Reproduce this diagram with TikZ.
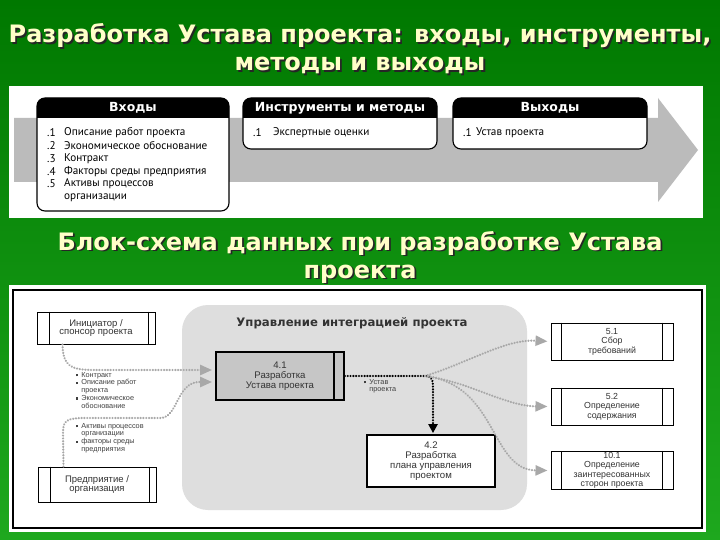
\documentclass[tikz,border=0pt]{standalone}
\usepackage{fontspec}
\setmainfont{DejaVu Sans}
\newfontfamily\ptfont{PT Sans}
\newfontfamily\arfont{Liberation Sans}
\usetikzlibrary{arrows.meta,positioning,calc}

\definecolor{bggreen}{RGB}{0,120,0}
\definecolor{bggreenlt}{RGB}{30,168,30}
\definecolor{ttlyellow}{RGB}{255,255,200}
\definecolor{bandgray}{RGB}{187,187,187}
\definecolor{zonegray}{RGB}{222,222,222}
\definecolor{boxgray}{RGB}{198,198,198}
\definecolor{flowgray}{RGB}{168,168,168}

\newcommand{\sqb}{\rule[0.8pt]{2.2pt}{2.2pt}\hspace{3pt}}

\begin{document}
\begin{tikzpicture}[x=1pt,y=-1pt]
  \tikzset{
    ttl/.style={text=ttlyellow,align=center,font=\bfseries\fontsize{24}{28}\selectfont},
    ttlsh/.style={ttl,text=black!85},
    hdr/.style={text=white,font=\bfseries\fontsize{12.5}{13}\selectfont},
    item/.style={anchor=west,inner sep=0pt,font=\ptfont\fontsize{11.2}{12}\selectfont},
    extbox/.style={draw,line width=1pt,fill=white,minimum width=118pt,minimum height=32pt,
      inner sep=1pt,align=center,font=\arfont\fontsize{9.5}{8.8}\selectfont,text=black!80},
    outbox/.style={extbox,minimum width=122pt,minimum height=37pt,
      font=\arfont\fontsize{8.8}{9.4}\selectfont},
    procbox/.style={draw,line width=1.8pt,minimum width=128pt,align=center,
      font=\arfont\fontsize{9.6}{10}\selectfont,text=black!80},
    note/.style={anchor=north west,inner sep=0pt,align=left,
      font=\arfont\fontsize{7.3}{7.7}\selectfont,text=black!75},
    flow/.style={draw=flowgray,line width=2.4pt,line cap=round,dash pattern=on 0.01pt off 2.8pt,
      -{Triangle[length=12pt,width=10pt,fill=flowgray,line cap=butt]},shorten >=3pt},
    blackflow/.style={flow,draw=black,-{Triangle[length=9pt,width=9pt,fill=black]},shorten >=1pt}
  }
  \useasboundingbox (0,0) rectangle (720,540);
  \shade[top color=bggreen,bottom color=bggreenlt] (0,0) rectangle (720,540);

  % titles
  \node[ttlsh] (t1s) at (361.8,50.8) {Разработка Устава проекта: входы, инструменты,\\методы и выходы};
  \node[ttl] (t1) at (360,49) {Разработка Устава проекта: входы, инструменты,\\методы и выходы};
  \node[ttlsh] (t2s) at (361.8,258.8) {Блок-схема данных при разработке Устава\\проекта};
  \node[ttl] (t2) at (360,257) {Блок-схема данных при разработке Устава\\проекта};

  % upper panel
  \fill[white] (9,86) rectangle (703,218);
  \fill[bandgray] (14,118) -- (658,118) -- (658,98) -- (698,150) -- (658,202)
    -- (658,182) -- (14,182) -- cycle;
  \foreach \xa/\xb/\yb in {37/229/211,243/437/149,453/647/149} {
    \draw[line width=1.1pt,fill=white,rounded corners=8pt] (\xa,98) rectangle (\xb,\yb);
    \fill (\xa,118) [rounded corners=8pt] -- (\xa,98) -- (\xb,98) [sharp corners] -- (\xb,118) -- cycle;
  }
  \node[hdr] (hin) at (133,108) {Входы};
  \node[hdr] (htool) at (340,108) {Инструменты и методы};
  \node[hdr] (hout) at (550,108) {Выходы};
  \foreach \n/\t [count=\i] in {.1/Описание работ проекта,.2/Экономическое обоснование,
      .3/Контракт,.4/Факторы среды предприятия,.5/Активы процессов} {
    \node[item] at (47,120+12.8*\i) {\n};
    \node[item] at (64,120+12.8*\i) {\t};
  }
  \node[item] at (64,197.5) {организации};
  \node[item] at (253,133) {.1};
  \node[item] at (273,133) {Экспертные оценки};
  \node[item] at (463,133) {.1};
  \node[item] at (476,133) {Устав проекта};

  % lower panel
  \fill[white] (9,285) rectangle (706,532);
  \draw[line width=1.2pt] (13,290) rectangle (702,528);
  \fill[zonegray,rounded corners=26pt] (182,305) rectangle (527,510);
  \node[font=\bfseries\fontsize{11.7}{13}\selectfont,text=black!80] (zone) at (352,323)
    {Управление интеграцией проекта};

  \node[extbox] (init) at (96,328) {Инициатор /\\спонсор проекта};
  \node[extbox,minimum height=35pt] (ent) at (97,484.5) {Предприятие /\\организация};
  \foreach \b in {init,ent} {
    \draw[line width=1pt] ([xshift=13pt]\b.north west) -- ([xshift=13pt]\b.south west);
    \draw[line width=1pt] ([xshift=-7pt]\b.north east) -- ([xshift=-7pt]\b.south east);
  }

  \node[procbox,fill=boxgray,minimum height=48pt] (p41) at (280,376)
    {4.1\\Разработка\\Устава проекта};
  \draw[line width=1.2pt] ([xshift=-11pt]p41.north east) -- ([xshift=-11pt]p41.south east);
  \node[procbox,fill=white,minimum height=52pt] (p42) at (431,461)
    {4.2\\Разработка\\плана управления\\проектом};

  \node[outbox] (p51) at (612,341.5) {5.1\\Сбор\\требований};
  \node[outbox] (p52) at (612,406.5) {5.2\\Определение\\содержания};
  \node[outbox] (p101) at (612,470.5)
    {10.1\\Определение\\заинтересованных\\сторон проекта};
  \foreach \b in {p51,p52,p101} {
    \draw[line width=1pt] ([xshift=11pt]\b.north west) -- ([xshift=11pt]\b.south west);
    \draw[line width=1pt] ([xshift=-11pt]\b.north east) -- ([xshift=-11pt]\b.south east);
  }

  % data flows
  \draw[flow] ($(init.south west)+(26,0)$) .. controls (63,366) and (70,370) .. (95,370)
    -- ([yshift=6pt]p41.west);
  \draw[flow] ($(ent.north west)+(26,0)$) -- (63,432) .. controls (63,420) and (68,418) .. (85,418)
    -- (160,418) .. controls (178,418) and (176,384) .. (198,382) -- ([yshift=-6pt]p41.west);
  \coordinate (jn) at (425,376);
  \draw[blackflow] (p41.east) -- (jn) .. controls (433,376) and (433,380) .. (433,392)
    -- ([xshift=2pt]p42.north);
  \draw[flow] (jn) .. controls (470,362) and (505,339) .. (p51.west);
  \draw[flow] (jn) .. controls (470,382) and (505,406) .. (p52.west);
  \draw[flow] (jn) .. controls (498,385) and (490,470) .. (p101.west);

  \node[note] (nin) at (76,372) {\sqb Контракт\\\sqb Описание работ\\\hspace*{5.2pt}проекта\\
    \sqb Экономическое\\\hspace*{5.2pt}обоснование};
  \node[note] (nent) at (76,423) {\sqb Активы процессов\\\hspace*{5.2pt}организации\\
    \sqb факторы среды\\\hspace*{5.2pt}предприятия};
  \node[note] (nout) at (364,379) {\sqb Устав\\\hspace*{5.2pt}проекта};
\end{tikzpicture}
\end{document}
